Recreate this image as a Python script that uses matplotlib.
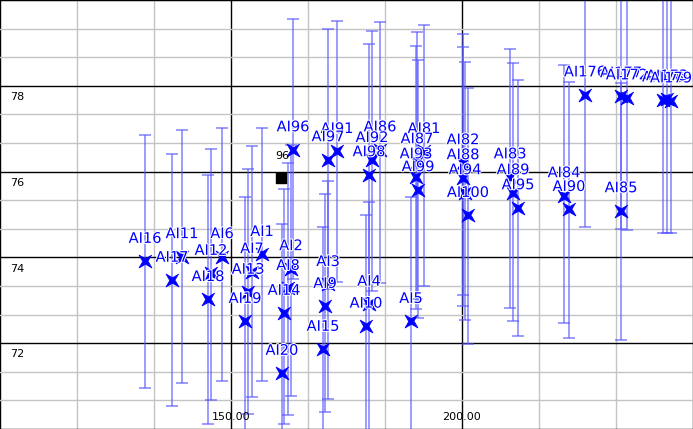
import matplotlib.pyplot as plt
import matplotlib.patheffects as pe
import numpy as np

# point names, x, y, upper end of bar, lower end of bar
names = ["AI1", "AI2", "AI3", "AI4", "AI5",
         "AI6", "AI7", "AI8", "AI9", "AI10",
         "AI11", "AI12", "AI13", "AI14", "AI15",
         "AI16", "AI17", "AI18", "AI19", "AI20",
         "AI81", "AI82", "AI83", "AI84", "AI85",
         "AI86", "AI87", "AI88", "AI89", "AI90",
         "AI91", "AI92", "AI93", "AI94", "AI95",
         "AI96", "AI97", "AI98", "AI99", "AI100",
         "AI176", "AI177", "AI172", "AI178", "AI173", "AI179", "AI182", "AI183"]
x = [156.71, 162.99, 171.00, 179.87, 188.96,
     148.05, 154.55, 162.34, 170.35, 179.22,
     139.39, 145.67, 153.68, 161.47, 169.91,
     131.39, 137.23, 145.02, 153.03, 161.04,
     191.77, 200.22, 210.39, 222.08, 234.42,
     182.25, 190.26, 200.22, 211.04, 223.16,
     172.94, 180.52, 190.04, 200.65, 212.12,
     163.42, 171.00, 179.87, 190.48, 201.30,
     226.62, 234.42, 235.71, 243.51, 244.37, 245.24, 251.95, 252.81]
y = [74.07, 73.74, 73.37, 72.91, 72.51,
     74.02, 73.67, 73.28, 72.86, 72.40,
     74.02, 73.63, 73.19, 72.70, 71.86,
     73.91, 73.47, 73.02, 72.51, 71.30,
     76.47, 76.21, 75.88, 75.44, 75.09,
     76.51, 76.23, 75.86, 75.51, 75.12,
     76.47, 76.26, 75.88, 75.51, 75.16,
     76.51, 76.28, 75.93, 75.58, 74.98,
     77.79, 77.77, 77.72, 77.67, 77.70, 77.65, 77.74, 77.44]
upper = [77.02, 76.63, 75.77, 75.28, 75.40,
         77.02, 76.60, 76.19, 75.47, 75.00,
         76.98, 76.53, 76.07, 75.60, 74.72,
         76.86, 76.42, 75.93, 75.40, 74.77,
         79.42, 79.21, 78.86, 78.49, 78.07,
         79.49, 79.26, 78.91, 78.53, 78.09,
         79.51, 79.28, 78.93, 78.56, 78.14,
         79.56, 79.33, 78.98, 78.60, 77.95,
         81.0, 81.0, 81.0, 81.0, 81.0, 81.0, 81.0, 81.0]
lower = [71.12, 70.77, 70.70, 69.77, 69.65,
         71.12, 70.74, 70.33, 70.40, 69.53,
         71.07, 70.67, 70.35, 70.12, 69.42,
         70.95, 70.53, 70.12, 69.77, 69.30,
         73.33, 73.12, 72.81, 72.47, 72.07,
         73.40, 73.02, 72.86, 72.51, 72.12,
         73.42, 73.21, 72.79, 72.53, 72.16,
         73.49, 73.26, 72.91, 72.58, 71.98,
         74.70, 74.67, 74.63, 74.58, 74.58, 74.56, 74.60, 74.40]

# the single black reference point
ref_x = [160.82]
ref_y = [75.84]
ref_label = "96"

x_ticks = [150, 200]
y_ticks = [72, 74, 76, 78]

x = np.array(x)
y = np.array(y)
upper = np.array(upper)
lower = np.array(lower)

# thin four-armed star turned 45 degrees, like an X with a solid middle
ang = np.deg2rad(np.arange(8) * 45 + 45)
rad = np.where(np.arange(8) % 2 == 0, 1.0, 0.3)
star = np.column_stack([rad * np.cos(ang), rad * np.sin(ang)])

fig = plt.figure(figsize=(6.93, 4.29), dpi=100)
ax = fig.add_axes([0, 0, 1, 1])
ax.set_xlim(100, 250)
ax.set_ylim(70, 80)

# grid: light minor lines, black major lines
ax.set_xticks(np.arange(100, 251, 50 / 3), minor=True)
ax.set_yticks(np.arange(70, 80.01, 2 / 3), minor=True)
ax.set_xticks(np.arange(100, 251, 50))
ax.set_yticks(np.arange(70, 80.01, 2))
ax.grid(which='minor', color='#c4c4c4', lw=1)
ax.grid(which='major', color='black', lw=1)
ax.tick_params(which='both', length=0, labelbottom=False, labelleft=False)
for s in ['left', 'right', 'bottom']:
    ax.spines[s].set_visible(False)
ax.spines['top'].set_color('black')
ax.set_axisbelow(True)

# error bars
ax.errorbar(x, y, yerr=[y - lower, upper - y], fmt='none',
            ecolor=(0.35, 0.35, 1.0, 0.6), elinewidth=1.4,
            capsize=4.5, capthick=1.4, zorder=2)

# markers
ax.scatter(x, y, marker=star, s=85, color='#0000ff', linewidths=0.6,
           edgecolors='#0000ff', zorder=3)

for n, xi, yi in zip(names, x, y):
    ax.annotate(n, (xi, yi), xytext=(0, 16.5), textcoords='offset points',
                ha='center', va='center', fontsize=10.5, color='#0000ff',
                zorder=4,
                path_effects=[pe.withStroke(linewidth=1.5, foreground='white')])

# black reference point
ax.scatter(ref_x, ref_y, marker='s', s=50, color='black', zorder=3)
ax.annotate(ref_label, (ref_x[0], ref_y[0]), xytext=(1, 16), textcoords='offset points',
            ha='center', va='center', fontsize=8, color='black', zorder=4)

# tick labels drawn inside the plot area
for t in x_ticks:
    ax.annotate(f"{t:.2f}", (t, 70), xytext=(0, 9), textcoords='offset points',
                ha='center', va='center', fontsize=8, color='black')
for t in y_ticks:
    ax.annotate(f"{t}", (100, t), xytext=(7, -8), textcoords='offset points',
                ha='left', va='center', fontsize=8, color='black')

plt.savefig('out.png', dpi=100)
